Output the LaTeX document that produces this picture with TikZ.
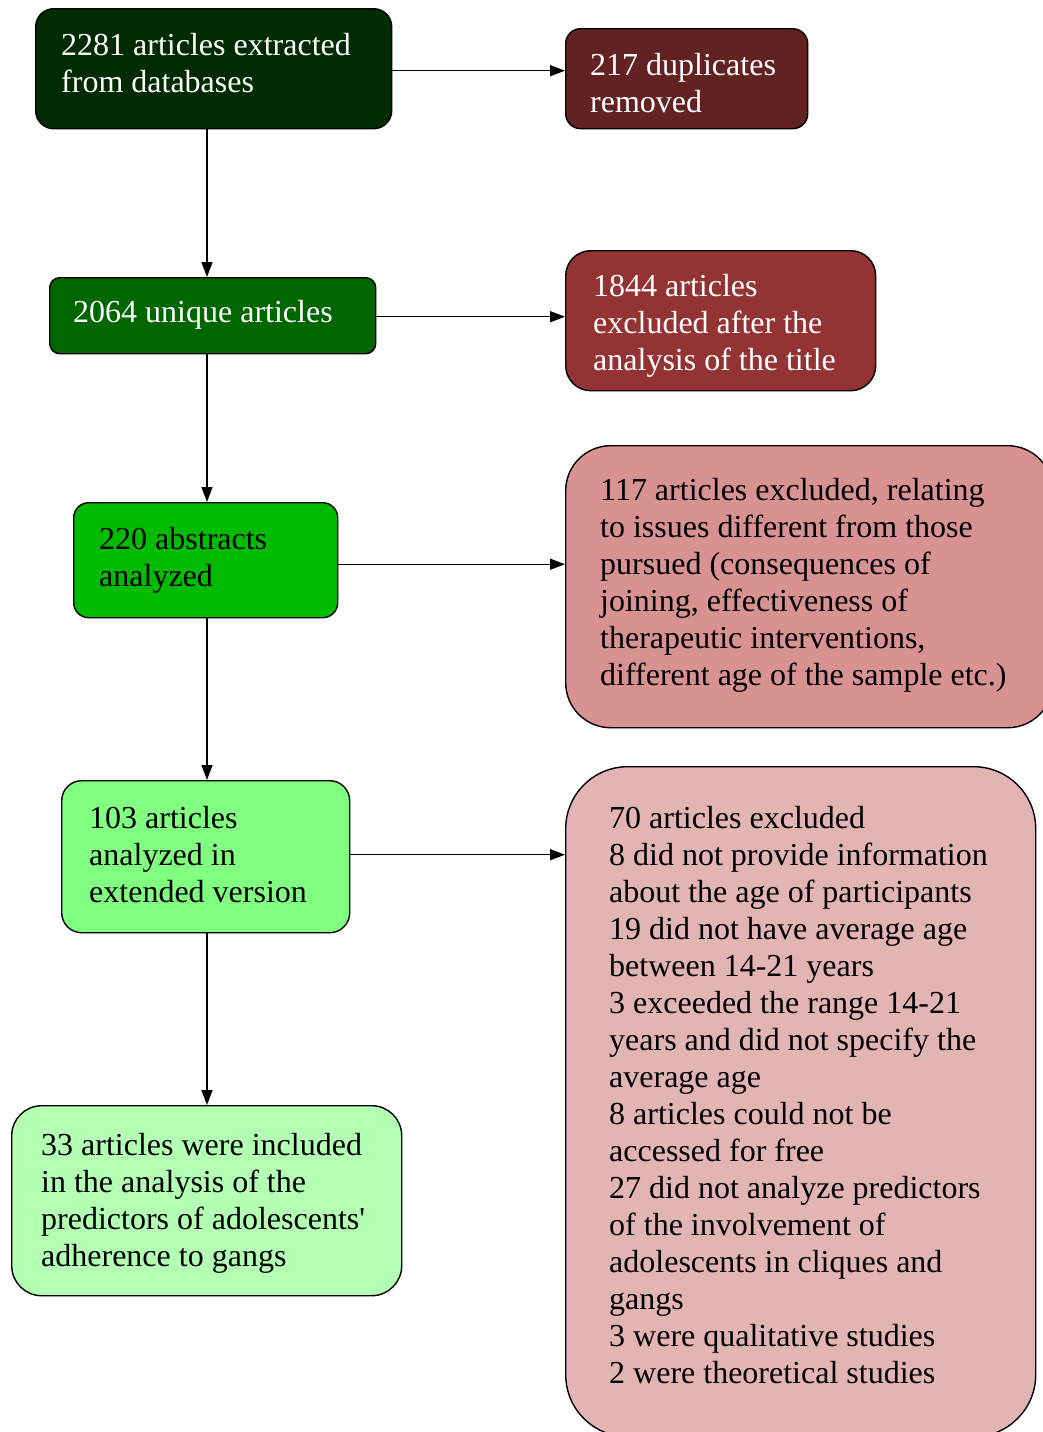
\documentclass[tikz,border=0pt]{standalone}
\usepackage{fontspec}
\setmainfont{Liberation Serif}
\usetikzlibrary{arrows.meta}
\definecolor{cA}{RGB}{0,43,0}
\definecolor{cB}{RGB}{98,34,34}
\definecolor{cC}{RGB}{0,102,0}
\definecolor{cD}{RGB}{148,51,51}
\definecolor{cE}{RGB}{0,187,0}
\definecolor{cF}{RGB}{217,146,146}
\definecolor{cG}{RGB}{128,255,128}
\definecolor{cH}{RGB}{227,180,180}
\definecolor{cI}{RGB}{179,255,179}
\begin{document}
\begin{tikzpicture}[x=1pt,y=-1pt,
  box/.style={draw=black, line width=1.4pt, anchor=north west, inner sep=0pt},
  txt/.style={anchor=north west, inner sep=0pt, align=left, font=\fontsize{32}{37}\selectfont},
  arr/.style={line width=1.4pt, -{Triangle[length=15pt,width=11pt]}}]
\useasboundingbox (0,0) rectangle (1043,1432);
\clip (0,0) rectangle (1043,1432);
\coordinate (axis) at (207,0);
% boxes
\node[box, fill=cA, rounded corners=18pt, minimum width=356pt, minimum height=120pt] (b1) at (35,8) {};
\node[box, fill=cB, rounded corners=15pt, minimum width=242pt, minimum height=100pt] (b2) at (565,28) {};
\node[box, fill=cC, rounded corners=10pt, minimum width=326pt, minimum height=76pt] (b3) at (49,277) {};
\node[box, fill=cD, rounded corners=25pt, minimum width=310pt, minimum height=140pt] (b4) at (565,250) {};
\node[box, fill=cE, rounded corners=15pt, minimum width=264pt, minimum height=115pt] (b5) at (73,502) {};
\node[box, fill=cF, rounded corners=45pt, minimum width=487pt, minimum height=282pt] (b6) at (565,445) {};
\node[box, fill=cG, rounded corners=20pt, minimum width=288pt, minimum height=152pt] (b7) at (61,780) {};
\node[box, fill=cH, rounded corners=62pt, minimum width=470pt, minimum height=670pt] (b8) at (565,766) {};
\node[box, fill=cI, rounded corners=30pt, minimum width=390pt, minimum height=190pt] (b9) at (11,1105) {};
% texts
\node[txt, text=white] (t1) at (61,33) {2281 articles extracted\\from databases};
\node[txt, text=white] (t2) at (590,53) {217 duplicates\\removed};
\node[txt, text=white] (t3) at (73,300) {2064 unique articles};
\node[txt, text=white] (t4) at (593,274) {1844 articles\\excluded after the\\analysis of the title};
\node[txt] (t5) at (99,527) {220 abstracts\\analyzed};
\node[txt] (t6) at (600,478) {117 articles excluded, relating\\to issues different from those\\pursued (consequences of\\joining, effectiveness of\\therapeutic interventions,\\different age of the sample etc.)};
\node[txt] (t7) at (89,806) {103 articles\\analyzed in\\extended version};
\node[txt] (t8) at (609,806) {70 articles excluded\\8 did not provide information\\about the age of participants\\19 did not have average age\\between 14-21 years\\3 exceeded the range 14-21\\years and did not specify the\\average age\\8 articles could not be\\accessed for free\\27 did not analyze predictors\\of the involvement of\\adolescents in cliques and\\gangs\\3 were qualitative studies\\2 were theoretical studies};
\node[txt] (t9) at (41,1133) {33 articles were included\\in the analysis of the\\predictors of adolescents\textquotesingle\\adherence to gangs};
% connectors
\draw[arr] ([yshift=-2pt]b1.east) -- ([yshift=-2pt]b1.east -| b2.west);
\draw[arr] ([yshift=-1pt]b3.east) -- ([yshift=-1pt]b3.east -| b4.west);
\draw[arr] ([yshift=-4pt]b5.east) -- ([yshift=-4pt]b5.east -| b6.west);
\draw[arr] ([yshift=2pt]b7.east) -- ([yshift=2pt]b7.east -| b8.west);
\draw[arr] (b1.south -| axis) -- (b3.north -| axis);
\draw[arr] (b3.south -| axis) -- (b5.north -| axis);
\draw[arr] (b5.south -| axis) -- (b7.north -| axis);
\draw[arr] (b7.south -| axis) -- (b9.north -| axis);
\end{tikzpicture}
\end{document}
